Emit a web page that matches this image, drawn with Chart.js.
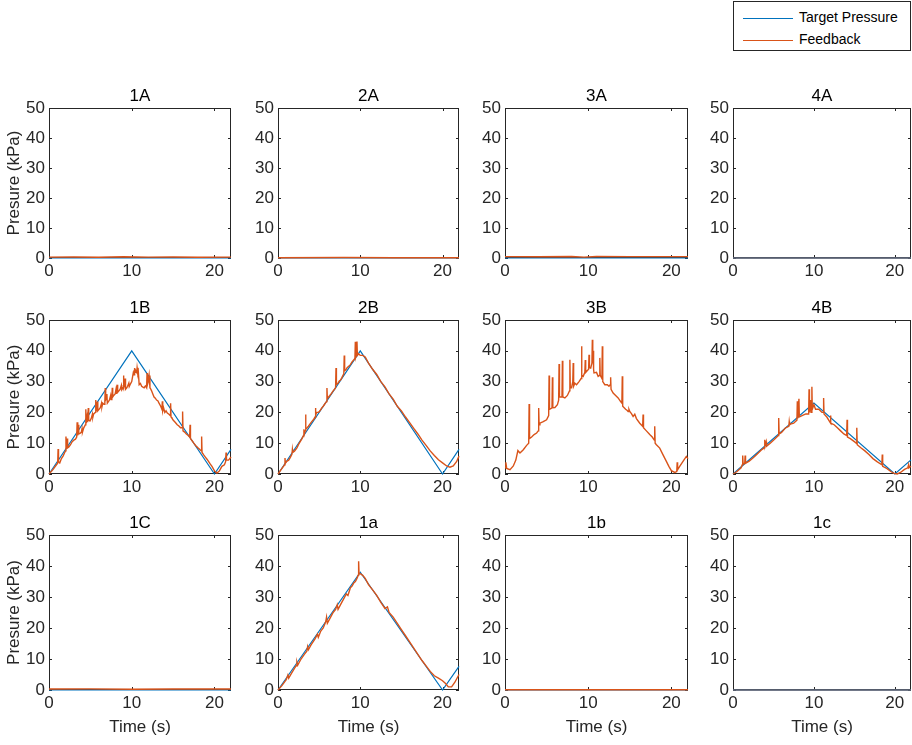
<!DOCTYPE html>
<html>
<head>
<meta charset="utf-8">
<script src="https://cdn.jsdelivr.net/npm/chart.js@4.4.1/dist/chart.umd.min.js"></script>
<style>
  body { margin: 0; background: #fff; width: 912px; height: 745px; overflow: hidden; position: relative;
         font-family: "Liberation Sans", Arial, sans-serif; }
  canvas.panel { position: absolute; }
  #legend { position: absolute; left: 733px; top: 1px; width: 176px; height: 48px;
            border: 1px solid #262626; background: #fff; font-size: 14px; color: #000; }
  #legend .row { position: absolute; left: 9px; height: 16px; line-height: 16px; white-space: nowrap; }
  #legend .swatch { display: inline-block; width: 50px; height: 1px; vertical-align: middle; margin-right: 6px; }
</style>
</head>
<body>
<div id="legend">
  <div class="row" style="top:7px"><span class="swatch" style="background:#0072BD"></span>Target Pressure</div>
  <div class="row" style="top:29px"><span class="swatch" style="background:#D95319"></span>Feedback</div>
</div>
<script>
// panel titles, row by row
const panelTitles = ['1A', '2A', '3A', '4A', '1B', '2B', '3B', '4B', '1C', '1a', '1b', '1c'];

// target pressure [time s, kPa]
const tgtFlat = [[0, 0], [22, 0]];
const tgt1B = [[0, 0], [10, 40], [20, 0], [22, 8]];
const tgt2B = [[0, 0], [10, 40], [20, 0], [22, 8]];
const tgt3B = [];
const tgt4B = [[0, 0], [10, 23], [20, 0], [22, 4.6]];
const tgt1a = [[0, 0], [10, 38], [20, 0], [22, 7.6]];

// feedback [time s, kPa]
const fb1A = [[0, 0.3], [3, 0.35], [6, 0.25], [9, 0.4], [12, 0.3], [15, 0.35], [18, 0.25], [22, 0.3]];
const fb2A = [[0, 0.1], [8, 0.15], [14, 0.1], [22, 0.1]];
const fb3A = [[0, 0.45], [4, 0.4], [8, 0.5], [9.5, 0.3], [11, 0.5], [15, 0.45], [22, 0.45]];
const fb4A = [[0, 0], [22, 0]];
const fb1C = [[0, 0.3], [5, 0.35], [10, 0.25], [15, 0.3], [22, 0.3]];
const fb1b = [[0, 0.1], [22, 0.1]];
const fb1c = [[0, 0], [22, 0]];

const fb1B = [[0,0],[0.5,1.5],[0.9,3],[1.05,3.5],[1.1,8.1],[1.15,4],[1.3,3.6],[1.5,5],[1.7,5.8],[1.9,7],[2.0,7.5],
  [2.05,12.2],[2.1,8.5],[2.15,10.5],[2.2,11.5],[2.25,8.5],[2.4,8.8],[2.6,9.5],[2.8,10.5],[3.0,11],[3.2,11.3],[3.35,12],
  [3.4,16.8],[3.45,12.5],[3.5,14],[3.55,16],[3.6,13],[3.75,13.2],[3.9,13.5],[4.0,14.8],[4.05,13.6],[4.2,15],[4.4,16],
  [4.45,21],[4.5,16.5],[4.6,18.5],[4.65,16.8],[4.7,17.5],[4.75,21.4],[4.8,17.5],[4.95,17.2],[5.1,18],[5.25,19.5],
  [5.3,18.4],[5.4,19.5],[5.6,20],[5.65,24],[5.7,20.5],[5.8,22.5],[5.85,23.5],[5.9,20.5],[6.05,21],[6.2,21.5],[6.35,23],
  [6.4,21.8],[6.5,23],[6.65,22.6],[6.75,23.5],[6.8,27.9],[6.85,24],[6.95,24.5],[7.0,26],[7.05,23],[7.2,23.6],[7.3,24],
  [7.45,25.5],[7.5,24.2],[7.6,25],[7.65,28],[7.7,25],[7.85,25.6],[8.0,26],[8.1,27.5],[8.15,26],[8.2,27],[8.25,29],
  [8.3,26.5],[8.45,27],[8.6,27.5],[8.75,28.8],[8.8,27.4],[8.95,28],[9.0,32],[9.05,28],[9.15,29],[9.2,31],[9.25,27.5],
  [9.4,28],[9.5,28.5],[9.65,29.5],[9.7,28.4],[9.8,29],[10.0,30],[10.1,31.5],[10.2,33],[10.3,32.2],[10.35,34.4],
  [10.45,33],[10.5,33.5],[10.6,33],[10.65,34.5],[10.75,32.5],[10.8,33],[10.9,29],[11.05,29.4],[11.2,28.5],[11.35,28.2],
  [11.5,28],[11.65,28.6],[11.8,28],[11.85,32.8],[11.9,29],[12.0,30],[12.1,32],[12.2,28],[12.3,27.6],[12.4,27],
  [12.55,26],[12.7,25],[12.85,24.6],[13.0,24],[13.15,23.8],[13.3,23],[13.5,22],[13.65,21],[13.7,23.6],[13.75,20.5],
  [13.85,21.5],[14.0,20],[14.15,20.5],[14.3,19.8],[14.5,19.4],[14.65,19],[14.7,23],[14.75,18.5],[14.85,18.2],[15.0,17.5],
  [15.25,16.8],[15.5,16],[15.7,15.6],[15.9,15],[16.1,15],[16.15,20.3],[16.2,14],[16.4,13.6],[16.6,13],[16.8,12.6],
  [17.0,12],[17.05,16],[17.1,11.5],[17.3,10.8],[17.5,10],[17.75,9.2],[18.0,8.5],[18.2,8],[18.4,7.5],[18.45,12.2],
  [18.5,7],[18.7,6.2],[18.9,5.5],[19.1,4.8],[19.3,4],[19.5,3.2],[19.7,2.5],[20.0,1],[20.3,0.3],[20.6,1],[20.9,2.5],
  [21.2,3],[21.35,4],[21.4,7],[21.45,4.5],[21.7,4.5],[22,5.5]];

const fb2B = [[0,0],[0.4,1.5],[0.8,3],[0.85,5.2],[0.9,3.5],[1.1,4.2],[1.3,4.5],[1.5,5.4],[1.7,6.5],[1.75,8],[1.8,7],
  [2.0,7.4],[2.3,8.5],[2.5,9.6],[2.7,10.5],[2.9,11.4],[3.1,12.5],[3.15,14.5],[3.2,13],[3.3,14],[3.35,19.3],[3.4,14.5],
  [3.55,15],[3.7,15.5],[3.9,16.3],[4.1,17],[4.3,17.6],[4.5,18.5],[4.55,21.4],[4.6,19],[4.7,20],[4.9,20],[5.1,20.5],
  [5.3,21.4],[5.5,22],[5.7,22.8],[5.9,23.5],[5.95,27.9],[6.0,24.5],[6.15,25],[6.3,25.5],[6.5,26.2],[6.7,27],[6.85,27.4],
  [7.0,28],[7.05,34.4],[7.1,29],[7.3,29.5],[7.45,30.2],[7.6,30.5],[7.75,31.2],[7.9,32],[8.0,32.5],[8.05,38.5],[8.1,33.5],
  [8.25,33.8],[8.4,34.5],[8.6,35],[8.8,35.5],[9.0,36.4],[9.2,37],[9.35,37.5],[9.4,42.9],[9.45,38],[9.55,39],[9.6,43],
  [9.65,38.5],[9.8,39],[10.0,38.5],[10.3,38.5],[10.6,38],[11.0,36],[11.5,34],[12.0,32.3],[12.5,30],[13.0,28.3],
  [13.5,26],[14.0,24.3],[14.5,22],[15.0,20.5],[15.5,18.5],[16.0,16.7],[16.5,14.8],[17.0,13],[17.5,11],[18.0,9.3],
  [18.5,7.5],[19.0,6],[19.5,4.6],[20.0,3.6],[20.5,2.6],[20.9,2.2],[21.3,2.6],[21.7,4],[22,5.8]];

const fb3B = [[0,2],[0.1,3.8],[0.2,1.8],[0.6,1.4],[1.0,2.6],[1.3,4.5],[1.55,7.6],[1.8,6.8],[2.2,7.9],[2.6,9.3],
  [2.85,10],[2.9,22.7],[2.95,11.5],[3.2,12],[3.5,12.8],[3.8,13.3],[4.0,14],[4.05,21.4],[4.1,16],[4.2,16.5],[4.6,17],
  [5.0,17.6],[5.25,19],[5.3,32],[5.35,21],[5.5,21.2],[5.65,21.5],[5.7,31.4],[5.75,21.5],[6.0,21.6],[6.3,22.5],
  [6.45,24],[6.5,35.7],[6.55,25],[6.7,25],[6.85,25],[6.9,36.8],[6.95,25],[7.2,24.7],[7.5,25.5],[7.75,27],[7.8,37.1],
  [7.85,28],[8.0,28],[8.15,30],[8.2,36],[8.25,28.5],[8.4,29.5],[8.6,29],[8.9,30],[9.15,31],[9.2,41.5],[9.25,32],
  [9.4,31.7],[9.6,33],[9.65,37],[9.7,33],[9.8,33.3],[10.05,34],[10.1,38.7],[10.15,34.5],[10.3,34.4],[10.45,36],
  [10.5,43.6],[10.55,36],[10.6,40],[10.65,34],[10.7,32.8],[11.0,33],[11.2,31.7],[11.35,32],[11.4,37.7],[11.45,32],
  [11.65,31],[11.7,41.5],[11.75,30],[12.0,29],[12.3,29],[12.5,28.5],[12.65,29],[12.7,31.4],[12.75,27.5],[13.0,26.3],
  [13.3,25.5],[13.6,24.7],[13.9,23.5],[14.05,23],[14.1,31.7],[14.15,22],[14.5,21],[14.7,20.6],[14.8,20.3],[14.9,21],
  [15.0,20.3],[15.2,19.6],[15.4,18.7],[15.6,19.4],[15.8,18],[16.2,16.5],[16.55,15.5],[16.6,19.3],[16.65,15],[17.0,14],
  [17.4,12.8],[17.7,12],[17.95,11],[18.0,15.5],[18.05,10],[18.2,9.5],[18.6,8.4],[19.0,6.2],[19.4,4.1],[19.7,2.5],
  [20.0,1.1],[20.4,0.5],[20.65,0.8],[20.7,3.8],[20.75,1.4],[21.0,2.5],[21.4,4.1],[21.8,5.7],[22,5]];

const fb4B = [[0,0],[0.5,0.8],[1.0,2],[1.15,3],[1.2,6],[1.25,3.2],[1.45,3.5],[1.5,6],[1.55,3.5],[2,4.2],[2.5,5.3],
  [3,6.5],[3.5,7.8],[3.85,8.5],[3.9,11.1],[3.95,9],[4.1,10.5],[4.15,9],[4.6,10],[5.1,11.2],[5.6,12.5],[5.65,18.2],
  [5.7,13],[6.0,13.5],[6.5,15],[6.9,15.5],[6.95,17],[7.0,16],[7.1,16.2],[7.5,16.5],[7.9,17.5],[7.95,23.6],[8.0,18],
  [8.15,24.4],[8.2,18.5],[8.6,19],[9.0,19.5],[9.35,19.5],[9.4,27.5],[9.45,20],[9.6,24],[9.65,20],[9.75,28.3],[9.8,21],
  [10,22.5],[10.2,21],[10.6,21],[11.0,20],[11.15,20],[11.2,24.7],[11.25,19.5],[11.6,18.5],[12.0,16.8],[12.05,19],
  [12.1,16.5],[12.5,16],[12.9,15],[13.3,14],[13.7,13],[14.05,12.5],[14.1,17.6],[14.15,12],[14.5,11.5],[15,10.5],
  [15.25,10],[15.3,15],[15.35,9.5],[15.8,8.5],[16.3,7.5],[16.8,6.3],[17.3,5],[17.8,4],[18.4,3],[18.45,6.3],[18.5,2.5],
  [19,1.8],[19.5,0.8],[19.9,0.2],[20.3,0],[20.7,0.5],[21.2,1.5],[21.6,2],[21.7,3],[21.75,2],[22,2.5]];

const fb1a = [[0,0],[0.5,1.5],[1,3.3],[1.2,4.8],[1.3,3.8],[1.6,5.2],[2,7],[2.2,7.8],[2.3,9],[2.4,8],[2.8,10],
  [3.2,11.5],[3.5,12.5],[3.6,14],[3.7,13],[4,14.5],[4.5,16.5],[4.8,18],[4.9,17],[5.2,19],[5.5,20],[5.8,22],[5.9,23.5],
  [6.0,21.5],[6.3,23],[6.7,25],[7.0,26],[7.2,27.5],[7.3,26],[7.7,28],[8.0,29.5],[8.3,31],[8.5,30.5],[8.8,33],[9.0,33.5],
  [9.2,34.5],[9.4,35],[9.6,36],[9.75,37],[9.8,41.5],[9.85,37.5],[10,37.5],[10.3,37],[10.6,36],[11,34],[11.5,32.3],
  [12,30.5],[12.5,28.3],[13,26.3],[13.3,26.8],[13.5,25],[14,23.5],[14.5,21.5],[15,19.5],[15.5,17.5],[16,15.5],
  [16.5,13.5],[17,11.5],[17.5,9.5],[18,7.8],[18.5,6],[19,4.6],[19.5,3.8],[20,3],[20.4,2],[20.7,1],[21.1,1],[21.5,2.5],
  [22,5]];

const targets = [tgtFlat, tgtFlat, tgtFlat, tgtFlat, tgt1B, tgt2B, tgt3B, tgt4B, tgtFlat, tgt1a, tgtFlat, tgtFlat];
const feedbacks = [fb1A, fb2A, fb3A, fb4A, fb1B, fb2B, fb3B, fb4B, fb1C, fb1a, fb1b, fb1c];
const feedbackOnTop = [true, true, true, false, true, true, true, true, true, true, true, false];

const xTicks = [0, 10, 20];
const yTicks = [0, 10, 20, 30, 40, 50];

// layout of the subplot grid (plot areas in page pixels)
const colLeft = [49, 278, 505, 733];
const colWidth = [182, 181, 183, 178];
const rowTop = [108, 320, 535];
const rowHeight = [150, 154, 155];
const axisW = 49;
const topSpace = 30;

const FONT = '"Liberation Sans", Arial, Helvetica, sans-serif';
const AXC = '#262626';

// box with inward tick marks and a title, like MATLAB axes
const boxPlugin = {
  id: 'matlabBox',
  beforeDatasetsDraw(chart, args, opts) {
    const { ctx, chartArea: a, scales } = chart;
    ctx.save();
    ctx.strokeStyle = AXC;
    ctx.lineWidth = 1;
    ctx.strokeRect(a.left + 0.5, a.top + 0.5, a.right - a.left - 1, a.bottom - a.top - 1);
    ctx.beginPath();
    const tl = 3;
    xTicks.forEach(v => {
      const px = Math.round(scales.x.getPixelForValue(v)) + 0.5;
      ctx.moveTo(px, a.bottom); ctx.lineTo(px, a.bottom - tl);
      ctx.moveTo(px, a.top); ctx.lineTo(px, a.top + tl);
    });
    yTicks.forEach(v => {
      const py = Math.round(scales.y.getPixelForValue(v)) + 0.5;
      ctx.moveTo(a.left, py); ctx.lineTo(a.left + tl, py);
      ctx.moveTo(a.right, py); ctx.lineTo(a.right - tl, py);
    });
    ctx.stroke();
    ctx.fillStyle = '#000';
    ctx.font = '17px ' + FONT;
    ctx.textAlign = 'center';
    ctx.textBaseline = 'alphabetic';
    ctx.fillText(opts.title, (a.left + a.right) / 2, a.top - 7);
    ctx.restore();
  }
};

function toXY(pairs) {
  return pairs.map(p => ({ x: p[0], y: p[1] }));
}

function createPanel(i) {
  const row = Math.floor(i / 4), col = i % 4;
  const bottomSpace = row === 2 ? 52 : 26;
  const w = axisW + colWidth[col] + 1;
  const h = topSpace + rowHeight[row] + bottomSpace;
  const cv = document.createElement('canvas');
  cv.className = 'panel';
  cv.width = w; cv.height = h;
  cv.style.left = (colLeft[col] - axisW) + 'px';
  cv.style.top = (rowTop[row] - topSpace) + 'px';
  cv.style.width = w + 'px'; cv.style.height = h + 'px';
  document.body.appendChild(cv);

  const fbTop = feedbackOnTop[i];
  new Chart(cv.getContext('2d'), {
    type: 'line',
    data: {
      datasets: [{
        label: 'Target Pressure',
        data: toXY(targets[i]),
        borderColor: '#0072BD',
        borderWidth: 1.2,
        pointRadius: 0,
        tension: 0,
        clip: false,
        order: fbTop ? 1 : 0
      }, {
        label: 'Feedback',
        data: toXY(feedbacks[i]),
        borderColor: '#D95319',
        borderWidth: 1.4,
        pointRadius: 0,
        tension: 0,
        clip: false,
        order: fbTop ? 0 : 1
      }]
    },
    options: {
      responsive: false,
      animation: false,
      events: [],
      layout: { padding: { top: topSpace, right: 1, left: 0, bottom: 0 } },
      plugins: {
        legend: { display: false },
        tooltip: { enabled: false },
        matlabBox: { title: panelTitles[i] }
      },
      scales: {
        x: {
          type: 'linear', min: 0, max: 22,
          grid: { display: false, drawTicks: false },
          border: { display: false },
          ticks: { stepSize: 10, includeBounds: false, padding: 3, maxRotation: 0, color: AXC,
                   font: { size: 17, family: FONT } },
          title: { display: row === 2, text: 'Time (s)', color: AXC,
                   font: { size: 17, family: FONT }, padding: { top: 0, bottom: 4 } },
          afterFit(s) { s.height = bottomSpace; }
        },
        y: {
          min: 0, max: 50,
          grid: { display: false, drawTicks: false },
          border: { display: false },
          ticks: { stepSize: 10, padding: 4, color: AXC, font: { size: 17, family: FONT } },
          title: { display: col === 0, text: 'Presure (kPa)', color: AXC,
                   font: { size: 17, family: FONT }, padding: { top: 4, bottom: 0 } },
          afterFit(s) { s.width = axisW; }
        }
      }
    },
    plugins: [boxPlugin]
  });
}

for (let i = 0; i < 12; i++) createPanel(i);
</script>
</body>
</html>
